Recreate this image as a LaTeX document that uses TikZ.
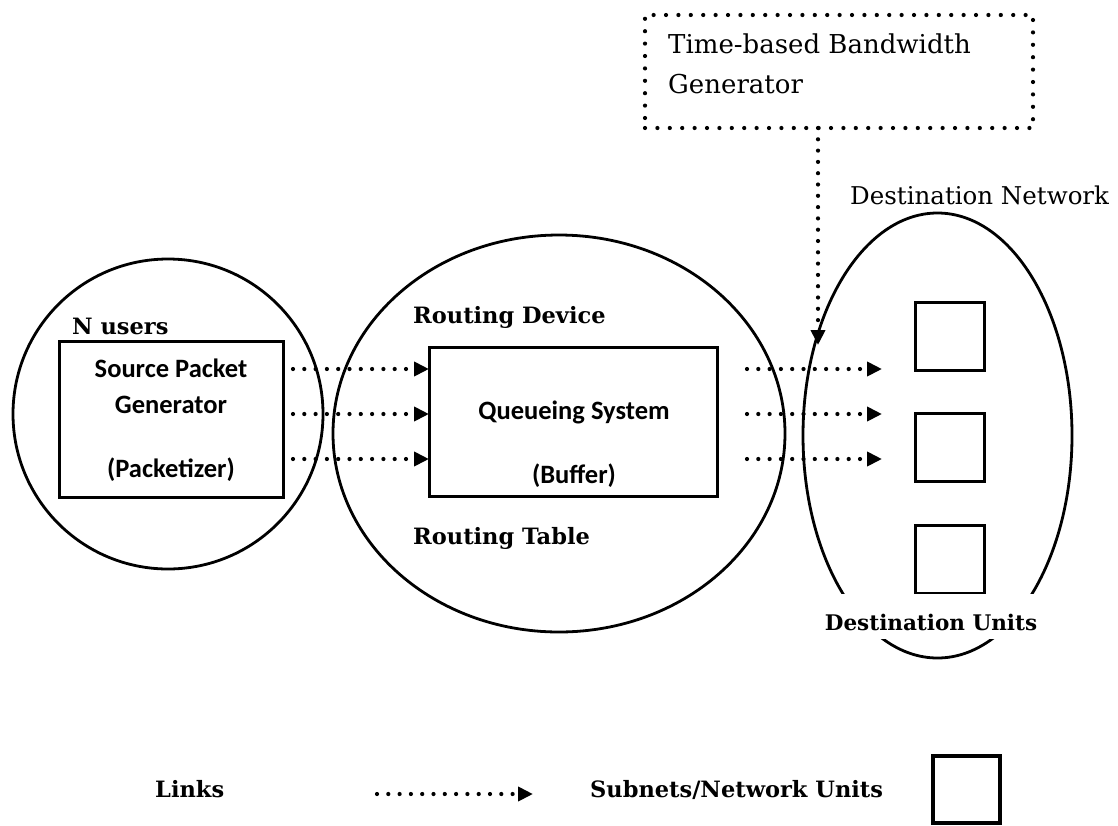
\documentclass[tikz,border=0pt]{standalone}
\usepackage{fontspec}
\setmainfont{DejaVu Serif}
\newfontfamily\sansfnt{Carlito}
\usepackage{tikz}
\usetikzlibrary{positioning,arrows.meta,shapes.geometric,calc}
\tikzset{
  zone/.style={draw, line width=2.8pt, inner sep=0pt, outer sep=0pt},
  panel/.style={draw, line width=3pt, inner sep=0pt, outer sep=0pt},
  unit/.style={draw, line width=3pt, minimum width=69pt, minimum height=68pt, inner sep=0pt, outer sep=0pt},
  dots/.style={line width=4.2pt, line cap=round, dash pattern=on 0pt off 11.3pt},
  link/.style={dots, -{Triangle[length=15pt,width=14pt]}},
  slab/.style={font=\fontsize{22.5}{27}\selectfont\bfseries, anchor=base west, inner sep=0pt},
  plain/.style={font=\fontsize{25}{30}\selectfont, anchor=base west, inner sep=0pt},
  boxtxt/.style={font=\sansfnt\fontsize{26.5}{30}\selectfont\bfseries, anchor=base, inner sep=0pt},
}
\begin{document}
\begin{tikzpicture}[x=1pt, y=-1pt]
    \useasboundingbox (0,0) rectangle (1118,825);
    \node[zone, circle, minimum size=310pt] (users) at (168,414) {};
    \node[zone, ellipse, minimum width=452pt, minimum height=397pt] (router) at (559,433.5) {};
    \node[zone, ellipse, minimum width=269pt, minimum height=445pt] (dest) at (937.5,435.5) {};
    \node[panel, minimum width=224pt, minimum height=156pt] (src) at (171,419) {};
    \node[panel, minimum width=288pt, minimum height=149pt] (queue) at (573,421.5) {};
    \node[slab] (nusers) at (72,334) {N users};
    \node[boxtxt] (s1) at (171,377) {Source Packet};
    \node[boxtxt] (s2) at (171,413) {Generator};
    \node[boxtxt] (s3) at (171,477) {(Packetizer)};
    \node[slab] (rdev) at (413,323) {Routing Device};
    \node[slab] (rtab) at (413,544) {Routing Table};
    \node[boxtxt] (q1) at (574,419) {Queueing System};
    \node[boxtxt] (q2) at (574,483) {(Buffer)};
    \node[unit] (u1) at (949.5,336) {};
    \node[unit, below=43.5pt of u1] (u2) {};
    \node[unit, below=43.5pt of u2] (u3) {};
    \coordinate (r1) at (0,369);
    \coordinate (r2) at (0,414);
    \coordinate (r3) at (0,459);
    \foreach \r in {1,2,3} {
        \draw[link] ($(src.east |- r\r)+(10,0)$) -- (queue.west |- r\r);
        \draw[link] ($(queue.east |- r\r)+(30,0)$) -- ($(u1.west |- r\r)+(-33,0)$);
    }
    \node[dots, draw, dash pattern=on 0pt off 12.4pt, minimum width=388pt, minimum height=113pt, outer sep=0pt] (tbg) at (839,71.5) {};
    \node[plain, font=\fontsize{26}{30}\selectfont] (tbg1) at (668,53) {Time-based Bandwidth};
    \node[plain, font=\fontsize{26}{30}\selectfont] (tbg2) at (668,93) {Generator};
    \coordinate (feed) at (818,345);
    \draw[link] (tbg.south -| feed) -- (feed);
    \node[plain, font=\fontsize{24.5}{30}\selectfont] (dnet) at (850,204) {Destination Network};
    \node[font=\fontsize{21.5}{30}\selectfont\bfseries, fill=white, text height=27pt, text depth=0pt, inner xsep=3pt, inner ysep=9pt, anchor=base] (dunits) at (931,630) {Destination Units};
    \node[slab] (links) at (155,797) {Links};
    \coordinate (lg0) at (377,794);
    \coordinate (lg1) at (533,794);
    \draw[link] (lg0) -- (lg1);
    \node[slab] (subn) at (590,797) {Subnets/Network Units};
    \node[unit, line width=4pt, minimum width=67pt, minimum height=67pt] (lgunit) at (966.5,789.5) {};
\end{tikzpicture}
\end{document}
